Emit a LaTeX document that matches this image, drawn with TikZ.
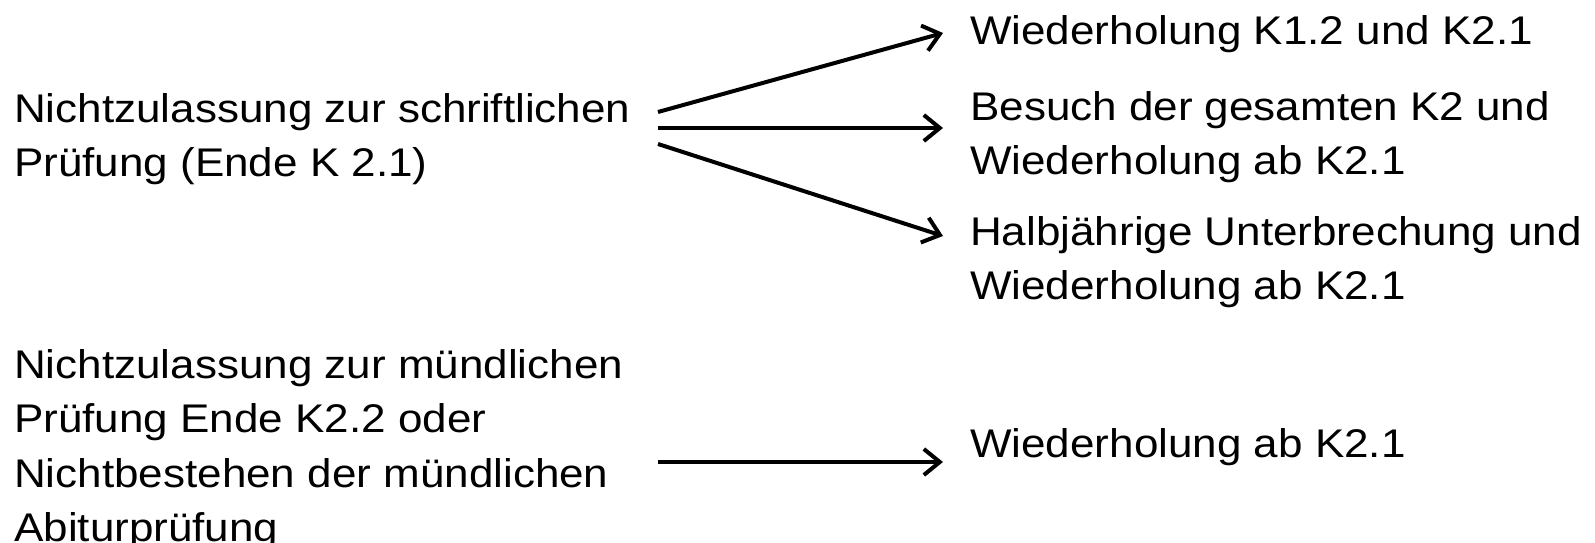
\documentclass[tikz,border=0pt]{standalone}
\usepackage{fontspec}
\setmainfont{Liberation Sans}[FakeStretch=1.1]
\usetikzlibrary{arrows.meta}
\newcommand{\twolines}[2]{\vtop{\hbox{#1}\hbox{#2}}}
\newcommand{\fourlines}[4]{\vtop{\hbox{#1}\hbox{#2}\hbox{#3}\hbox{#4}}}
\begin{document}
\begin{tikzpicture}[x=1pt,y=-1pt,
  lbl/.style={anchor=base west,inner sep=0pt,font=\fontsize{40}{54.5}\selectfont},
  arr/.style={line width=4pt,-{Straight Barb[length=16pt,width=26pt,line width=4pt]}}]
\useasboundingbox (0,0) rectangle (1595,543);
% left texts
\node[lbl] (s1) at (14,122) {\twolines{Nichtzulassung zur schriftlichen}{Prüfung (Ende K 2.1)}};
\node[lbl] (s2) at (14,378) {\fourlines{Nichtzulassung zur mündlichen}{Prüfung Ende K2.2 oder}{Nichtbestehen der mündlichen}{Abiturprüfung}};
% right texts
\node[lbl] (r1) at (970,45) {Wiederholung K1.2 und K2.1};
\node[lbl] (r2) at (970,120) {\twolines{Besuch der gesamten K2 und}{Wiederholung ab K2.1}};
\node[lbl] (r3) at (970,245) {\twolines{Halbjährige Unterbrechung und}{Wiederholung ab K2.1}};
\node[lbl] (r4) at (970,457) {Wiederholung ab K2.1};
% arrow end points
\coordinate (a1s) at (658,112); \coordinate (a1e) at (943,33);
\coordinate (a2s) at (658,128); \coordinate (a2e) at (943,128);
\coordinate (a3s) at (658,144); \coordinate (a3e) at (943,236);
\coordinate (a4s) at (658,462); \coordinate (a4e) at (943,462);
\draw[arr] (a1s) -- (a1e);
\draw[arr] (a2s) -- (a2e);
\draw[arr] (a3s) -- (a3e);
\draw[arr] (a4s) -- (a4e);
\end{tikzpicture}
\end{document}
